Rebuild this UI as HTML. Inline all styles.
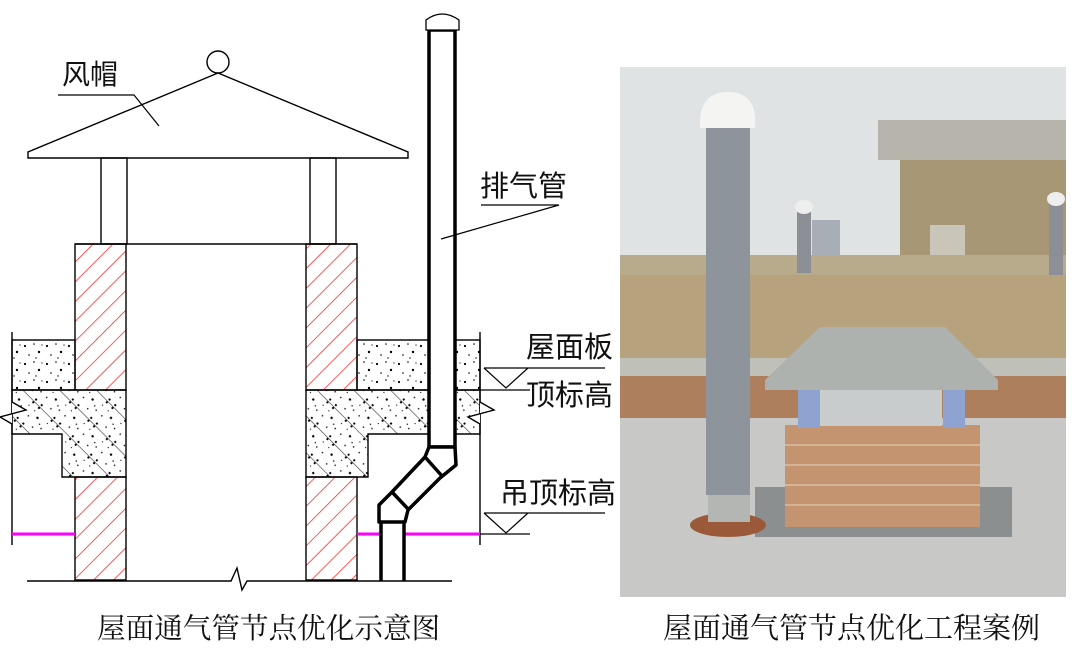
<!DOCTYPE html>
<html><head><meta charset="utf-8"><style>
body{margin:0;background:#fff;width:1075px;height:669px;overflow:hidden}
svg{display:block}
text{font-family:"Liberation Sans","Noto Sans CJK SC",sans-serif}
.cap{font-family:"Liberation Serif","Noto Serif CJK SC",serif}
</style></head><body>
<svg width="1075" height="669" viewBox="0 0 1075 669" xmlns="http://www.w3.org/2000/svg">
<defs>
<pattern id="red" width="14" height="14" patternUnits="userSpaceOnUse" patternTransform="rotate(45)">
<line x1="0" y1="0" x2="0" y2="14" stroke="#f22" stroke-width="1.5"/></pattern>
<pattern id="dots" width="22" height="18" patternUnits="userSpaceOnUse">
<circle cx="3" cy="4" r="1.1" fill="#000"/><circle cx="12" cy="2" r="0.8" fill="#000"/><circle cx="17" cy="10" r="1.2" fill="#000"/><circle cx="7" cy="13" r="0.8" fill="#000"/><circle cx="14" cy="16" r="0.7" fill="#000"/><circle cx="20" cy="3" r="0.6" fill="#000"/></pattern>
<pattern id="slab" width="26" height="26" patternUnits="userSpaceOnUse" patternTransform="rotate(-45)">
<rect width="26" height="26" fill="url(#dots)"/><line x1="0" y1="0" x2="0" y2="26" stroke="#333" stroke-width="1.2"/></pattern>
</defs>
<g stroke="#000" stroke-width="1.4" fill="none">
<circle cx="218" cy="62" r="11" fill="#fff"/>
<polygon points="218,73 28,152 28,158 408,158 408,152" fill="#fff"/>
<rect x="101" y="158" width="26" height="86"/>
<rect x="310" y="158" width="26" height="86"/>
<line x1="75" y1="244" x2="357" y2="244"/>
<polyline points="58,95 134,95 159,126" stroke-width="1.2"/>
<rect x="12" y="340" width="63" height="50" fill="url(#dots)"/>
<rect x="357" y="340" width="123" height="50" fill="url(#dots)"/>
<polygon points="12,390 126,390 126,477 62,477 62,434 12,434" fill="url(#slab)"/>
<polygon points="306,390 480,390 480,434 368,434 368,477 306,477" fill="url(#slab)"/>
<rect x="75" y="244" width="51" height="146" fill="url(#red)"/>
<rect x="75" y="477" width="51" height="103" fill="url(#red)"/>
<rect x="306" y="244" width="51" height="146" fill="url(#red)"/>
<rect x="306" y="477" width="51" height="103" fill="url(#red)"/>
<line x1="12" y1="332" x2="12" y2="545"/>
<line x1="480" y1="332" x2="480" y2="545"/>
<polyline points="12,402 26,410 0,417 12,424" fill="#fff"/>
<polyline points="480,402 494,410 468,417 480,424" fill="#fff"/>
<polyline points="27,581 231,581 237,568 242,590 247,581 452,581"/>
</g>
<g stroke="#f0f" stroke-width="3">
<line x1="12" y1="534" x2="75" y2="534"/><line x1="357" y1="534" x2="380" y2="534"/><line x1="404" y1="534" x2="480" y2="534"/>
</g>
<g stroke="#000" stroke-width="3.5" fill="#fff" stroke-linejoin="round">
<rect x="429" y="30" width="26" height="417"/>
<polygon points="429,447 455,447 456,465 440,478 408,510 405,522 379,522 379,505 392,492 425,457"/>
<line x1="425" y1="457" x2="442" y2="476"/>
<line x1="392" y1="492" x2="409" y2="510"/>
<line x1="381" y1="522" x2="381" y2="581"/>
<line x1="404" y1="522" x2="404" y2="581"/>
</g>
<path d="M426,30 L426,20 Q442,8 459,20 L459,30 Z" fill="#fff" stroke="#000" stroke-width="1.3"/>
<g stroke="#000" stroke-width="1.2" fill="none">
<polyline points="481,205 559,205 441,239"/>
<polyline points="484,368 605,368"/><polyline points="484,368 506,388 528,368"/><line x1="480" y1="390" x2="530" y2="390"/>
<polyline points="484,513 605,513"/><polyline points="484,513 506,533 528,513"/><line x1="480" y1="534" x2="530" y2="534"/>
</g>
<g fill="#111" font-size="29">
<text x="62" y="84" font-size="28">风帽</text>
<text x="480" y="196">排气管</text>
<text x="526" y="357">屋面板</text>
<text x="526" y="405">顶标高</text>
<text x="500" y="503">吊顶标高</text>
<text class="cap" x="97" y="638" font-size="28.6">屋面通气管节点优化示意图</text>
<text class="cap" x="663" y="638" font-size="29">屋面通气管节点优化工程案例</text>
</g>
<g>
<rect x="620" y="67" width="446" height="530" fill="#dfe3e3"/>
<rect x="900" y="120" width="166" height="140" fill="#a89775"/>
<rect x="878" y="120" width="188" height="40" fill="#b7b5ab"/>
<rect x="930" y="225" width="35" height="35" fill="#c9c5b8"/>
<rect x="812" y="220" width="28" height="40" fill="#a8aeb5"/>
<rect x="620" y="255" width="446" height="20" fill="#b8ab8c"/>
<rect x="620" y="275" width="446" height="85" fill="#b6a27c"/>
<rect x="620" y="358" width="446" height="18" fill="#bfc0b8"/>
<rect x="620" y="376" width="446" height="44" fill="#ae7f5d"/>
<rect x="620" y="418" width="446" height="179" fill="#c8c9c6"/>
<rect x="755" y="487" width="257" height="50" fill="#8c8f8f"/>
<rect x="797" y="208" width="14" height="65" fill="#8c9096"/><ellipse cx="804" cy="207" rx="9" ry="7" fill="#eee"/>
<rect x="1049" y="200" width="14" height="75" fill="#8c9096"/><ellipse cx="1056" cy="199" rx="9" ry="7" fill="#eee"/>
<ellipse cx="728" cy="525" rx="38" ry="12" fill="#9a5a3a"/>
<rect x="708" y="492" width="42" height="30" fill="#b4b6b4"/>
<rect x="706" y="125" width="44" height="370" fill="#8e949b"/>
<path d="M700,128 Q698,92 728,92 Q758,92 755,128 Z" fill="#f4f4f2"/>
<rect x="785" y="425" width="195" height="102" fill="#c49470"/>
<g stroke="#e6d2bd" stroke-width="1">
<line x1="785" y1="445" x2="980" y2="445"/><line x1="785" y1="465" x2="980" y2="465"/><line x1="785" y1="485" x2="980" y2="485"/><line x1="785" y1="505" x2="980" y2="505"/></g>
<rect x="798" y="390" width="22" height="38" fill="#8fa3d0"/>
<rect x="943" y="390" width="22" height="38" fill="#8fa3d0"/>
<rect x="820" y="390" width="122" height="36" fill="#c8cccc"/>
<polygon points="820,327 945,327 998,380 998,390 765,390 765,380" fill="#aeb2ae"/>
</g>
</svg>
</body></html>
